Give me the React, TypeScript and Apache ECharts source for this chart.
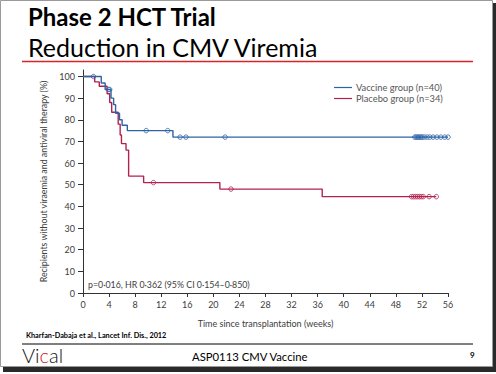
import React, { useEffect, useRef } from "react";
import * as echarts from "echarts";

// ---- Data ----
const xTickValues = [0, 4, 8, 12, 16, 20, 24, 28, 32, 36, 40, 44, 48, 52, 56];
const yTickValues = [0, 10, 20, 30, 40, 50, 60, 70, 80, 90, 100];

const vaccineTimes = [0, 2.8, 3.4, 4.3, 4.7, 5.0, 5.6, 6.0, 6.8, 13.8, 56];
const vaccineSurvival = [100, 97, 94, 90, 87, 83, 80, 77.5, 75, 72, 72];

const placeboTimes = [0, 1.8, 2.5, 3.7, 4.1, 4.4, 5.4, 5.7, 5.9, 6.6, 7.0, 9.3, 21.0, 36.7, 54.2];
const placeboSurvival = [100, 97.5, 95.5, 92, 88, 83.5, 78, 73, 69, 66, 54, 51, 48, 44.5, 44.5];

const vaccineCensorTimes = [1.6, 3.9, 4.1, 9.7, 13.0, 14.9, 15.8, 21.8, 50.9, 51.1, 51.3, 51.5, 51.7, 51.9, 52.1, 52.4, 52.8, 53.2, 53.7, 54.3, 54.9, 55.5, 56.0];
const vaccineCensorValues = [100, 94, 94, 75, 75, 72, 72, 72, 72, 72, 72, 72, 72, 72, 72, 72, 72, 72, 72, 72, 72, 72, 72];

const placeboCensorTimes = [10.8, 22.7, 50.4, 50.7, 51.0, 51.3, 51.6, 51.9, 52.2, 53.1, 54.2];
const placeboCensorValues = [51, 48, 44.5, 44.5, 44.5, 44.5, 44.5, 44.5, 44.5, 44.5, 44.5];

const seriesNames = ["Vaccine group (n=40)", "Placebo group (n=34)"];
const annotationText = "p=0·016, HR 0·362 (95% CI 0·154–0·850)";
const xAxisName = "Time since transplantation (weeks)";
const yAxisName = "Recipients without viraemia and antiviral therapy (%)";

const BLUE = "#2c64a6";
const RED = "#b3224f";
const TXT = "#3d3d3d";
const SLIDE_FONT = "Lato, 'Liberation Sans', sans-serif";
const CHART_FONT = "Lato, 'Noto Sans', sans-serif";

const zip = (a: number[], b: number[]) => a.map((v, i) => [v, b[i]]);

export default function App() {
  const ref = useRef<HTMLDivElement>(null);
  useEffect(() => {
    if (!ref.current) return;
    const chart = echarts.init(ref.current, undefined, { renderer: "svg" });
    chart.setOption({
      animation: false,
      backgroundColor: "#ffffff",
      textStyle: { fontFamily: CHART_FONT },
      grid: { left: 83, right: 48, top: 70, bottom: 81, containLabel: false },
      legend: {
        data: seriesNames,
        orient: "vertical",
        left: 329,
        top: 78,
        itemWidth: 18,
        itemHeight: 1.2,
        itemGap: 2,
        icon: "rect",
        textStyle: { fontSize: 9.3, color: "#555", fontFamily: CHART_FONT, padding: [0, 0, 0, -1] },
      },
      xAxis: {
        type: "value",
        min: 0,
        max: 56,
        interval: 4,
        name: xAxisName,
        nameLocation: "middle",
        nameGap: 26,
        nameTextStyle: { fontSize: 9, color: TXT },
        axisLine: { lineStyle: { color: "#333", width: 1 } },
        axisTick: { show: true, length: 4, lineStyle: { color: "#333" }, customValues: xTickValues },
        axisLabel: { fontSize: 9, color: TXT, margin: 7, customValues: xTickValues },
        splitLine: { show: false },
      },
      yAxis: {
        type: "value",
        min: 0,
        max: 103,
        name: yAxisName,
        nameLocation: "middle",
        nameGap: 29,
        nameTextStyle: { fontSize: 8.8, color: TXT },
        axisLine: { show: true, lineStyle: { color: "#333", width: 1 } },
        axisTick: { show: true, length: 5, lineStyle: { color: "#333" }, customValues: yTickValues },
        axisLabel: { fontSize: 9, color: TXT, margin: 8, customValues: yTickValues },
        splitLine: { show: false },
      },
      series: [
        {
          name: seriesNames[0],
          type: "line",
          step: "end",
          data: zip(vaccineTimes, vaccineSurvival),
          showSymbol: false,
          symbol: "none",
          lineStyle: { color: BLUE, width: 1.4 },
          itemStyle: { color: BLUE },
          z: 3,
        },
        {
          name: seriesNames[1],
          type: "line",
          step: "end",
          data: zip(placeboTimes, placeboSurvival),
          showSymbol: false,
          symbol: "none",
          lineStyle: { color: RED, width: 1.4 },
          itemStyle: { color: RED },
          z: 2,
        },
        {
          name: "vaccine censored",
          type: "scatter",
          data: zip(vaccineCensorTimes, vaccineCensorValues),
          symbol: "circle",
          symbolSize: 4.5,
          itemStyle: { color: "rgba(255,255,255,0)", borderColor: BLUE, borderWidth: 1 },
          z: 4,
        },
        {
          name: "placebo censored",
          type: "scatter",
          data: zip(placeboCensorTimes, placeboCensorValues),
          symbol: "circle",
          symbolSize: 4.5,
          itemStyle: { color: "rgba(255,255,255,0)", borderColor: RED, borderWidth: 1 },
          z: 4,
        },
      ],
      graphic: [
        // slide frame and shadow
        { type: "rect", z: -10, shape: { x: 3, y: 367, width: 493, height: 5 }, style: { fill: "#2a2a2a" } },
        { type: "rect", z: -10, shape: { x: 492, y: 3, width: 4, height: 369 }, style: { fill: "#2a2a2a" } },
        { type: "rect", z: -9, shape: { x: 0.5, y: 0.5, width: 492, height: 366 }, style: { fill: "#ffffff", stroke: "#9a9a9a", lineWidth: 1 } },
        // titles
        { type: "text", x: 28, y: 16, style: { text: "Phase 2 HCT Trial", font: `bold 24px ${SLIDE_FONT}`, fill: "#000", textVerticalAlign: "middle" } },
        { type: "text", x: 28, y: 47, style: { text: "Reduction in CMV Viremia", font: `25px ${SLIDE_FONT}`, fill: "#000", textVerticalAlign: "middle" } },
        { type: "line", shape: { x1: 22, y1: 61.5, x2: 473, y2: 61.5 }, style: { stroke: "#d8232a", lineWidth: 1.6 } },
        // annotation inside plot
        { type: "text", x: 88, y: 284, style: { text: annotationText, font: `8.8px ${CHART_FONT}`, fill: TXT, textVerticalAlign: "middle" } },
        // footer
        { type: "text", x: 26, y: 335, style: { text: "Kharfan-Dabaja et al., Lancet Inf. Dis., 2012", font: `bold 7.3px ${SLIDE_FONT}`, fill: "#000", textVerticalAlign: "middle" } },
        { type: "line", shape: { x1: 22, y1: 344, x2: 473, y2: 344 }, style: { stroke: "#000", lineWidth: 1 } },
        {
          type: "text",
          x: 22,
          y: 355,
          style: {
            text: "{a|Vi}{b|c}{a|al}",
            textVerticalAlign: "middle",
            rich: {
              a: { fontSize: 20, fontFamily: SLIDE_FONT, fontWeight: 300, fill: "#111", color: "#111" },
              b: { fontSize: 20, fontFamily: SLIDE_FONT, fontWeight: 300, fill: "#d0202a", color: "#d0202a" },
            },
          },
        },
        { type: "text", x: 192, y: 356, style: { text: "ASP0113 CMV Vaccine", font: `11.3px ${SLIDE_FONT}`, fill: "#000", textVerticalAlign: "middle" } },
        { type: "text", x: 470, y: 355, style: { text: "9", font: `bold 8px ${SLIDE_FONT}`, fill: "#000", textVerticalAlign: "middle" } },
      ],
    });
    return () => chart.dispose();
  }, []);
  return (
    <div
      ref={ref}
      style={{ position: "fixed", left: 0, top: 0, width: 496, height: 374, margin: 0 }}
    />
  );
}
